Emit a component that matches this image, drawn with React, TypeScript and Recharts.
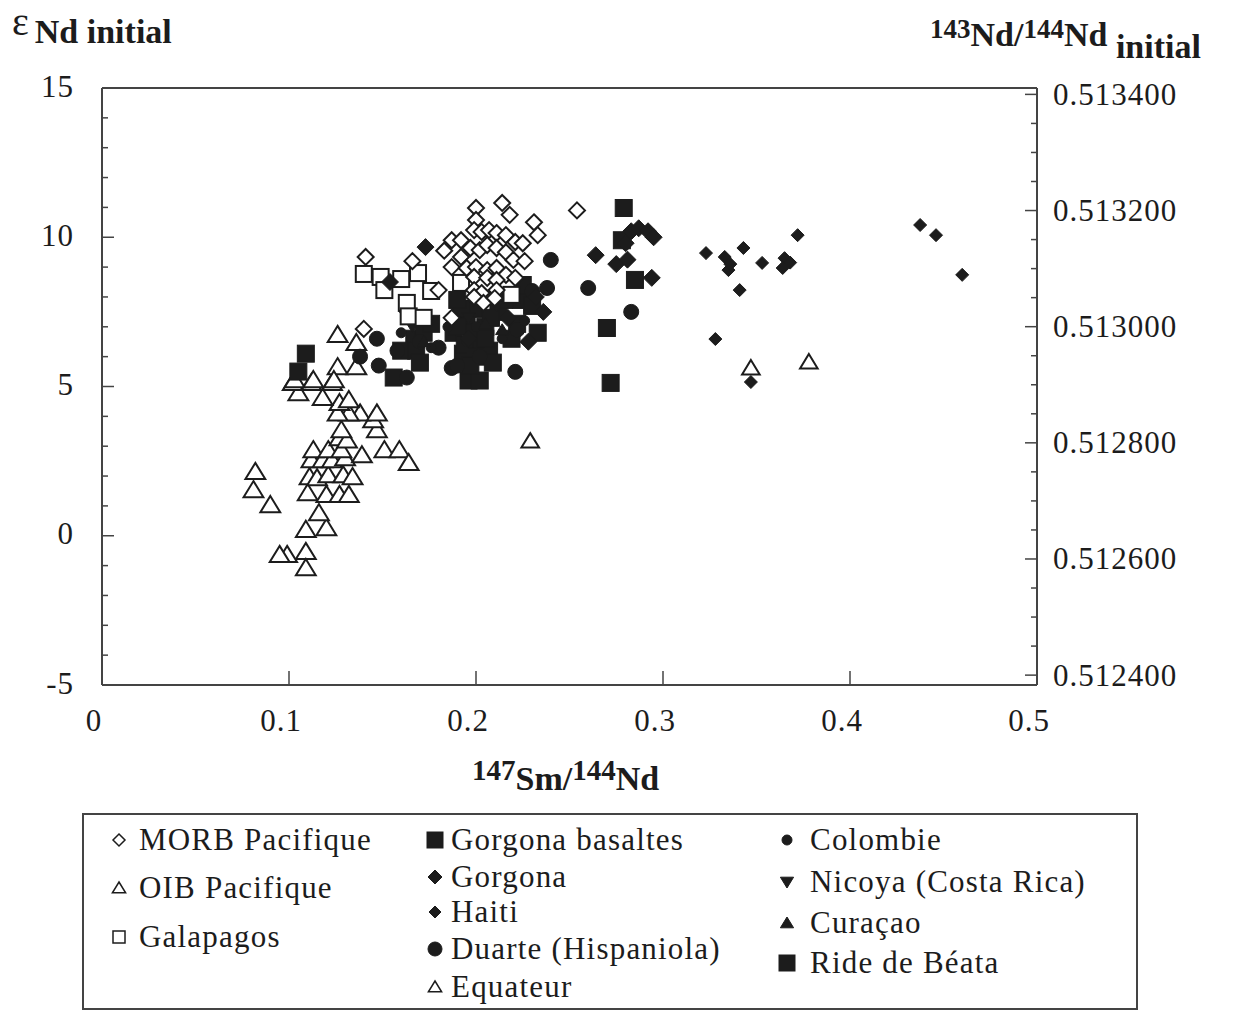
import React from 'react'
import { ScatterChart, Scatter, XAxis, YAxis, ReferenceLine, Legend } from 'recharts'

const SERIF = '"Liberation Serif", "Times New Roman", Times, serif'
const INK = '#1c1c1c'
const AXIS = '#444'

// [147Sm/144Nd, eps Nd initial], one list per group
const morbPacifique = [
  [0.141, 9.34], [0.166, 9.2], [0.14, 6.93], [0.254, 10.9], [0.18, 8.23], [0.187, 7.3],
  [0.2, 10.98], [0.214, 11.15], [0.218, 10.75], [0.231, 10.5], [0.233, 10.07], [0.2, 10.58],
  [0.199, 10.24], [0.203, 10.18], [0.187, 9.9], [0.192, 9.9], [0.207, 10.24], [0.211, 10.14],
  [0.216, 10.07], [0.221, 9.84], [0.225, 9.8], [0.197, 9.64], [0.202, 9.57], [0.206, 9.74],
  [0.211, 9.64], [0.216, 9.5], [0.22, 9.24], [0.192, 9.34], [0.187, 9.0], [0.195, 8.97],
  [0.2, 9.0], [0.206, 8.9], [0.211, 8.97], [0.216, 8.74], [0.199, 8.67], [0.206, 8.64],
  [0.211, 8.57], [0.221, 8.64], [0.199, 8.23], [0.203, 8.13], [0.211, 8.23], [0.199, 8.0],
  [0.204, 7.8], [0.21, 7.96], [0.226, 9.2], [0.183, 9.55]
]
const oibPacifique = [
  [0.082, 2.14], [0.081, 1.53], [0.09, 1.03], [0.109, -0.54], [0.099, -0.64], [0.095, -0.64],
  [0.109, -1.08], [0.109, 0.2], [0.12, 0.26], [0.116, 0.76], [0.11, 1.43], [0.12, 1.37],
  [0.127, 1.37], [0.132, 1.37], [0.111, 1.97], [0.115, 1.93], [0.121, 2.03], [0.129, 2.03],
  [0.134, 1.97], [0.112, 2.54], [0.118, 2.54], [0.123, 2.54], [0.13, 2.6], [0.113, 2.87],
  [0.121, 2.87], [0.128, 2.87], [0.139, 2.7], [0.127, 3.27], [0.131, 3.2], [0.128, 3.54],
  [0.151, 2.87], [0.159, 2.87], [0.164, 2.44], [0.147, 3.54], [0.145, 3.88], [0.138, 4.1],
  [0.132, 4.1], [0.126, 4.1], [0.147, 4.1], [0.127, 4.45], [0.132, 4.55], [0.118, 4.62],
  [0.123, 5.12], [0.112, 5.12], [0.105, 4.78], [0.102, 5.12], [0.126, 6.73], [0.136, 6.46],
  [0.126, 5.65], [0.136, 5.65], [0.103, 5.22], [0.113, 5.22], [0.124, 5.22]
]
const galapagos = [
  [0.14, 8.77], [0.149, 8.67], [0.16, 8.6], [0.169, 8.8], [0.151, 8.23], [0.163, 7.8],
  [0.164, 7.35], [0.172, 7.3], [0.192, 8.47], [0.219, 8.07], [0.176, 8.2]
]
const gorgonaBasaltes = [
  [0.109, 6.1], [0.105, 5.5], [0.156, 5.3], [0.196, 5.2], [0.202, 5.2], [0.167, 6.6],
  [0.172, 6.8], [0.176, 7.1], [0.188, 6.8], [0.195, 7.2], [0.199, 7.6], [0.202, 6.4],
  [0.207, 6.2], [0.212, 7.5], [0.219, 6.6], [0.224, 7.9], [0.193, 6.1], [0.16, 6.2],
  [0.168, 6.2], [0.198, 6.8], [0.205, 7.0], [0.192, 7.6], [0.215, 7.9], [0.17, 5.8],
  [0.19, 7.0], [0.194, 6.4], [0.2, 6.0], [0.205, 6.6], [0.209, 5.8], [0.197, 5.7],
  [0.19, 7.9], [0.208, 7.3], [0.225, 8.4], [0.23, 7.7], [0.222, 7.1], [0.233, 6.8]
]
const gorgona = [
  [0.283, 10.2], [0.287, 10.3], [0.292, 10.2], [0.295, 10.0], [0.28, 9.8], [0.264, 9.4],
  [0.275, 9.1], [0.281, 9.25], [0.294, 8.64], [0.173, 9.67], [0.154, 8.5], [0.232, 8.0],
  [0.228, 6.5], [0.236, 7.5], [0.217, 7.3], [0.196, 6.6]
]
const haiti = [
  [0.323, 9.47], [0.333, 9.34], [0.335, 8.9], [0.343, 9.64], [0.353, 9.14], [0.365, 9.3],
  [0.364, 8.97], [0.372, 10.07], [0.341, 8.23], [0.328, 6.59], [0.347, 5.15], [0.4375, 10.41],
  [0.446, 10.07], [0.46, 8.74], [0.368, 9.15], [0.336, 9.1]
]
const duarte = [
  [0.147, 6.6], [0.24, 9.24], [0.238, 8.3], [0.187, 5.62], [0.221, 5.49], [0.26, 8.3],
  [0.283, 7.5], [0.148, 5.7], [0.163, 5.3], [0.158, 6.2], [0.18, 6.3], [0.19, 5.7],
  [0.202, 6.0], [0.222, 6.9], [0.23, 8.2], [0.138, 6.0], [0.17, 6.5]
]
const colombie = [
  [0.2, 7.0], [0.214, 6.6], [0.226, 7.2], [0.16, 6.8], [0.176, 6.3], [0.195, 6.5], [0.185, 7.0]
]
const nicoya = [[0.162, 7.4], [0.166, 7.0], [0.211, 7.7], [0.196, 7.3]]
const curacao = [[0.214, 6.9], [0.172, 6.5], [0.205, 7.1]]
const rideBeata = [[0.279, 10.98], [0.278, 9.9], [0.285, 8.57], [0.27, 6.96], [0.272, 5.12]]
const equateur = [[0.229, 3.17], [0.347, 5.62], [0.378, 5.82]]

const xTicks = [0, 0.1, 0.2, 0.3, 0.4, 0.5]
const epsTicks = [-5, -4, -3, -2, -1, 0, 1, 2, 3, 4, 5, 6, 7, 8, 9, 10, 11, 12, 13, 14, 15]
const ndTicks = [
  0.5124, 0.51245, 0.5125, 0.51255, 0.5126, 0.51265, 0.5127, 0.51275, 0.5128, 0.51285,
  0.5129, 0.51295, 0.513, 0.51305, 0.5131, 0.51315, 0.5132, 0.51325, 0.5133, 0.51335, 0.5134
]

const toPts = (a: number[][]) => a.map(([x, y]) => ({ x, y }))

type Kind = 'diamond' | 'square' | 'circle' | 'triUp' | 'triDown'

const symbol = (kind: Kind, cx: number, cy: number, r: number, filled: boolean, sw = 2) => {
  const common = { fill: filled ? INK : '#fff', stroke: INK, strokeWidth: filled ? 1 : sw }
  switch (kind) {
    case 'diamond':
      return <path d={`M${cx},${cy - r}L${cx + r},${cy}L${cx},${cy + r}L${cx - r},${cy}Z`} {...common} />
    case 'square':
      return <rect x={cx - r} y={cy - r} width={2 * r} height={2 * r} {...common} />
    case 'circle':
      return <circle cx={cx} cy={cy} r={r} {...common} />
    case 'triUp':
      return <path d={`M${cx},${cy - r}L${cx + r * 1.1},${cy + r * 0.8}L${cx - r * 1.1},${cy + r * 0.8}Z`} {...common} />
    default:
      return <path d={`M${cx},${cy + r}L${cx + r * 1.1},${cy - r * 0.8}L${cx - r * 1.1},${cy - r * 0.8}Z`} {...common} />
  }
}

const marker = (kind: Kind, r: number, filled: boolean) => (p: any) => {
  if (p.cx == null || p.cy == null) return <g />
  return symbol(kind, p.cx, p.cy, r, filled)
}

const XTick = (p: any) => {
  const ay = p.y - 35
  return (
    <g>
      <line x1={p.x} x2={p.x} y1={ay} y2={ay - 14} stroke={AXIS} strokeWidth={1.5} />
      <text x={p.x - 8} y={p.y} textAnchor="middle" dominantBaseline="central"
        fontFamily={SERIF} fontSize={31} letterSpacing={1} fill={INK}>{p.payload.value}</text>
    </g>
  )
}

const LeftTick = (p: any) => {
  const v = p.payload.value
  const major = v % 5 === 0
  const ax = p.x + 28
  return (
    <g>
      <line x1={ax} x2={ax + (major ? 12 : 6)} y1={p.y} y2={p.y} stroke={AXIS} strokeWidth={1.5} />
      {major && (
        <text x={p.x} y={p.y - 2} textAnchor="end" dominantBaseline="central"
          fontFamily={SERIF} fontSize={31} letterSpacing={1} fill={INK}>{v}</text>
      )}
    </g>
  )
}

const RightTick = (p: any) => {
  const v = p.payload.value
  const major = Math.round(v * 1e6) % 200 === 0
  const ax = p.x - 16
  return (
    <g>
      <line x1={ax} x2={ax - (major ? 12 : 6)} y1={p.y} y2={p.y} stroke={AXIS} strokeWidth={1.5} />
      {major && (
        <text x={p.x} y={p.y} textAnchor="start" dominantBaseline="central"
          fontFamily={SERIF} fontSize={31} letterSpacing={1} fill={INK}>{v.toFixed(6)}</text>
      )}
    </g>
  )
}

const legendItems = [
  { label: 'MORB Pacifique', kind: 'diamond', r: 6, filled: false, mx: 35, tx: 55, cy: 25 },
  { label: 'OIB Pacifique', kind: 'triUp', r: 6, filled: false, mx: 35, tx: 55, cy: 73 },
  { label: 'Galapagos', kind: 'square', r: 6, filled: false, mx: 35, tx: 55, cy: 122 },
  { label: 'Gorgona basaltes', kind: 'square', r: 8, filled: true, mx: 351, tx: 367, cy: 25 },
  { label: 'Gorgona', kind: 'diamond', r: 7, filled: true, mx: 351, tx: 367, cy: 62 },
  { label: 'Haiti', kind: 'diamond', r: 6, filled: true, mx: 351, tx: 367, cy: 97 },
  { label: 'Duarte (Hispaniola)', kind: 'circle', r: 7, filled: true, mx: 351, tx: 367, cy: 134 },
  { label: 'Equateur', kind: 'triUp', r: 6, filled: false, mx: 351, tx: 367, cy: 172 },
  { label: 'Colombie', kind: 'circle', r: 5, filled: true, mx: 703, tx: 726, cy: 25 },
  { label: 'Nicoya (Costa Rica)', kind: 'triDown', r: 6, filled: true, mx: 703, tx: 726, cy: 67 },
  { label: 'Curaçao', kind: 'triUp', r: 6, filled: true, mx: 703, tx: 726, cy: 108 },
  { label: 'Ride de Béata', kind: 'square', r: 8, filled: true, mx: 703, tx: 726, cy: 148 }
]

const LegendBox = () => (
  <div style={{
    position: 'relative', width: 1056, height: 197, boxSizing: 'border-box',
    border: `2px solid ${AXIS}`, background: '#fff', fontFamily: SERIF, color: INK
  }}>
    {legendItems.map((it) => (
      <React.Fragment key={it.label}>
        <svg width={24} height={24} style={{ position: 'absolute', left: it.mx - 12, top: it.cy - 12 }}>
          {symbol(it.kind as Kind, 12, 12, it.r, it.filled, 1.5)}
        </svg>
        <div style={{
          position: 'absolute', left: it.tx, top: it.cy - 19, lineHeight: '38px',
          fontSize: 31, letterSpacing: 1.2, whiteSpace: 'nowrap'
        }}>{it.label}</div>
      </React.Fragment>
    ))}
  </div>
)

const bold = { fontWeight: 700 as const }

export default function App() {
  return (
    <div style={{
      position: 'absolute', left: 0, top: 0, width: 1239, height: 1010,
      background: '#fff', fontFamily: SERIF, color: INK
    }}>
      <ScatterChart width={1239} height={1010} margin={{ top: 88, right: 22, bottom: 265, left: 22 }}>
        <XAxis dataKey="x" type="number" domain={[0, 0.5]} ticks={xTicks} interval={0} height={60}
          tickSize={0} tickMargin={35} tick={(p: any) => <XTick {...p} />}
          axisLine={{ stroke: AXIS, strokeWidth: 2 }} />
        <YAxis yAxisId="left" dataKey="y" type="number" domain={[-5, 15]} ticks={epsTicks} interval={0}
          width={80} tickSize={0} tickMargin={28} tick={(p: any) => <LeftTick {...p} />}
          axisLine={{ stroke: AXIS, strokeWidth: 2 }} />
        <YAxis yAxisId="right" orientation="right" type="number" domain={[0.512383, 0.513411]}
          allowDataOverflow ticks={ndTicks} interval={0} width={180} tickSize={0} tickMargin={16}
          tick={(p: any) => <RightTick {...p} />} axisLine={{ stroke: AXIS, strokeWidth: 2 }} />
        <ReferenceLine yAxisId="left" y={15} stroke={AXIS} strokeWidth={2} />
        <Scatter name="OIB Pacifique" yAxisId="left" data={toPts(oibPacifique)} shape={marker('triUp', 9, false)} isAnimationActive={false} />
        <Scatter name="Equateur" yAxisId="left" data={toPts(equateur)} shape={marker('triUp', 8, false)} isAnimationActive={false} />
        <Scatter name="Gorgona basaltes" yAxisId="left" data={toPts(gorgonaBasaltes)} shape={marker('square', 8.5, true)} isAnimationActive={false} />
        <Scatter name="Ride de Béata" yAxisId="left" data={toPts(rideBeata)} shape={marker('square', 8.5, true)} isAnimationActive={false} />
        <Scatter name="Duarte (Hispaniola)" yAxisId="left" data={toPts(duarte)} shape={marker('circle', 7.5, true)} isAnimationActive={false} />
        <Scatter name="Colombie" yAxisId="left" data={toPts(colombie)} shape={marker('circle', 5, true)} isAnimationActive={false} />
        <Scatter name="Curaçao" yAxisId="left" data={toPts(curacao)} shape={marker('triUp', 6, true)} isAnimationActive={false} />
        <Scatter name="Nicoya (Costa Rica)" yAxisId="left" data={toPts(nicoya)} shape={marker('triDown', 6, true)} isAnimationActive={false} />
        <Scatter name="Galapagos" yAxisId="left" data={toPts(galapagos)} shape={marker('square', 8, false)} isAnimationActive={false} />
        <Scatter name="MORB Pacifique" yAxisId="left" data={toPts(morbPacifique)} shape={marker('diamond', 8, false)} isAnimationActive={false} />
        <Scatter name="Gorgona" yAxisId="left" data={toPts(gorgona)} shape={marker('diamond', 8.5, true)} isAnimationActive={false} />
        <Scatter name="Haiti" yAxisId="left" data={toPts(haiti)} shape={marker('diamond', 6.5, true)} isAnimationActive={false} />
        <Legend layout="horizontal" verticalAlign="middle" align="center" content={() => <LegendBox />}
          wrapperStyle={{ left: 82, top: 813, width: 1056, height: 197 }} />
      </ScatterChart>

      {/* axis titles */}
      <div style={{ position: 'absolute', left: 12, top: 2, whiteSpace: 'nowrap', lineHeight: 1 }}>
        <span style={{ fontSize: 40 }}>ε</span>
        <span style={{ ...bold, fontSize: 34, marginLeft: 6, position: 'relative', top: 8 }}>Nd initial</span>
      </div>
      <div style={{ position: 'absolute', left: 930, top: 10, whiteSpace: 'nowrap', lineHeight: 1, ...bold }}>
        <span style={{ fontSize: 27 }}>143</span>
        <span style={{ fontSize: 34, position: 'relative', top: 8 }}>Nd/</span>
        <span style={{ fontSize: 27 }}>144</span>
        <span style={{ fontSize: 34, position: 'relative', top: 8 }}>Nd </span>
        <span style={{ fontSize: 34, position: 'relative', top: 20 }}>initial</span>
      </div>
      <div style={{ position: 'absolute', left: 472, top: 752, whiteSpace: 'nowrap', lineHeight: 1, ...bold }}>
        <span style={{ fontSize: 29 }}>147</span>
        <span style={{ fontSize: 34, position: 'relative', top: 10 }}>Sm/</span>
        <span style={{ fontSize: 29 }}>144</span>
        <span style={{ fontSize: 34, position: 'relative', top: 10 }}>Nd</span>
      </div>
    </div>
  )
}
